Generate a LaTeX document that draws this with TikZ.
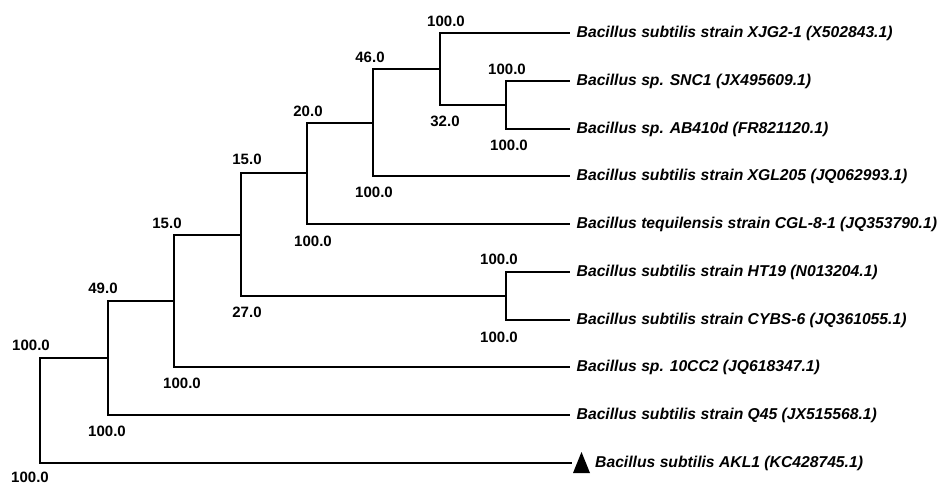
\documentclass[tikz,border=0pt]{standalone}
\usepackage{fontspec}
\setmainfont{Liberation Sans}
\usepackage{tikz}
\usetikzlibrary{positioning,calc}

\newcommand{\numfont}{\fontsize{15}{17}\selectfont\bfseries}
\newcommand{\taxfont}{\fontsize{15.7}{18}\selectfont\bfseries\itshape}

\begin{document}
\begin{tikzpicture}[x=1pt, y=-1pt,
  every node/.style={font=\numfont, inner sep=0pt},
  branch/.style={line width=2pt, line join=miter},
  taxon/.style={font=\taxfont, anchor=west, inner xsep=6.5pt, inner ysep=0pt}]
\useasboundingbox (0,0) rectangle (938,485);

% taxa
\foreach \i/\y/\txt in {1/33/{Bacillus subtilis strain XJG2-1 (X502843.1)},
                        2/81/{Bacillus sp. SNC1 (JX495609.1)},
                        3/129/{Bacillus sp. AB410d (FR821120.1)},
                        4/176/{Bacillus subtilis strain XGL205 (JQ062993.1)},
                        5/224/{Bacillus tequilensis strain CGL-8-1 (JQ353790.1)},
                        6/272/{Bacillus subtilis strain HT19 (N013204.1)},
                        7/320/{Bacillus subtilis strain CYBS-6 (JQ361055.1)},
                        8/367/{Bacillus sp. 10CC2 (JQ618347.1)},
                        9/415/{Bacillus subtilis strain Q45 (JX515568.1)}} {
  \node[taxon] (t\i) at (570,\y) {\txt};
}
\coordinate (mk) at (572,463);
\fill (mk) ++(1,10) -- ++(8.5,-21) -- ++(8.5,21) -- cycle;
\node[taxon, inner xsep=0pt] (t10) at (595,463) {Bacillus subtilis AKL1 (KC428745.1)};

% internal nodes
\foreach \name/\x/\y in {root/40/410, A/108/358, B/174/301, C/241/235, D/307/173,
                         E/373/123, F/440/69, G/506/105, H/506/296} {
  \coordinate (\name) at (\x,\y);
}

% branches
\foreach \p/\c in {root/A, root/mk, A/B, A/t9, B/C, B/t8, C/D, C/H, D/E, D/t5,
                   E/F, E/t4, F/t1, F/G, G/t2, G/t3, H/t6, H/t7} {
  \draw[branch] (\p) |- (\c);
}

% bootstrap values
\foreach \name/\x/\y/\val in {ur/31/345/100.0, lr/30/477/100.0,
                              uA/103/288/49.0, lA/107/431/100.0,
                              uB/167/223/15.0, lB/182/383/100.0,
                              uC/247/159/15.0, lC/247/312/27.0,
                              uD/308/111/20.0, lD/313/241/100.0,
                              uE/370/57/46.0, lE/374/192/100.0,
                              uF/446/21/100.0, lF/445/121/32.0,
                              uG/507/69/100.0, lG/509/145/100.0,
                              uH/499/259/100.0, lH/499/337/100.0} {
  \node (\name) at (\x,\y) {\val};
}
\end{tikzpicture}
\end{document}
